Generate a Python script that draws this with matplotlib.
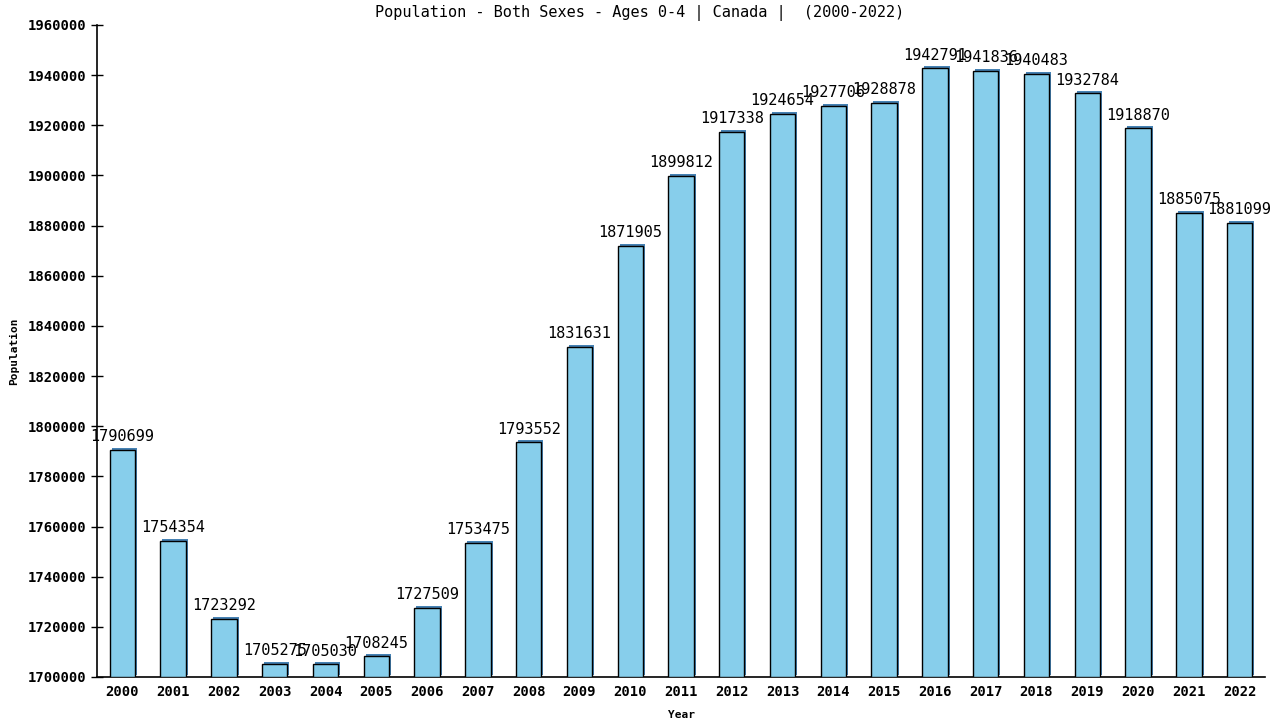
import matplotlib
matplotlib.use("Agg")
import matplotlib.pyplot as plt
import matplotlib.transforms as mtransforms
import numpy as np

years = [str(y) for y in range(2000, 2023)]
population = [1790699, 1754354, 1723292, 1705275, 1705030, 1708245, 1727509,
              1753475, 1793552, 1831631, 1871905, 1899812, 1917338, 1924654,
              1927706, 1928878, 1942791, 1941836, 1940483, 1932784, 1918870,
              1885075, 1881099]
yticks = list(range(1700000, 1960001, 20000))

plt.rcParams['font.family'] = ['DejaVu Sans Mono']

fig = plt.figure(figsize=(12.8, 7.2), dpi=100)
ax = fig.add_axes([97/1280, 43/720, (1265-97)/1280, (677-25)/720])

x = np.arange(len(years))
base = 1700000
heights = [p - base for p in population]
# shadow
shadow = mtransforms.offset_copy(ax.transData, fig=fig, x=2, y=2, units='dots')
ax.bar(x, heights, width=0.5, bottom=base, color='steelblue', edgecolor='none',
       transform=shadow, zorder=2)
ax.bar(x, heights, width=0.5, bottom=base, color='skyblue', edgecolor='black',
       linewidth=1.0, zorder=3)

for xi, p in zip(x, population):
    ax.annotate(str(p), (xi, p), xytext=(0, 4), textcoords='offset points',
                ha='center', va='bottom', fontsize=11, color='black', zorder=4)

ax.set_xlim(-0.5, len(years) - 0.5)
ax.set_ylim(1700000, 1960000)
ax.set_yticks(yticks)
ax.set_yticklabels([str(t) for t in yticks], fontsize=10, fontweight='bold')
ax.set_xticks(x)
ax.set_xticklabels(years, fontsize=10, fontweight='bold')
ax.tick_params(axis='x', length=0, pad=6)
ax.tick_params(axis='y', direction='inout', length=8, width=1, pad=4)
for s in ['top', 'right']:
    ax.spines[s].set_visible(False)
for s in ['left', 'bottom']:
    ax.spines[s].set_linewidth(1.2)

ax.set_xlabel('Year', fontsize=8, fontweight='bold', labelpad=8)
ax.set_ylabel('Population', fontsize=8, fontweight='bold', labelpad=6)
fig.text(0.5, 1 - 13/720, 'Population - Both Sexes - Ages 0-4 | Canada |  (2000-2022)',
         ha='center', va='center', fontsize=11)

fig.savefig('out.png', dpi=100)
